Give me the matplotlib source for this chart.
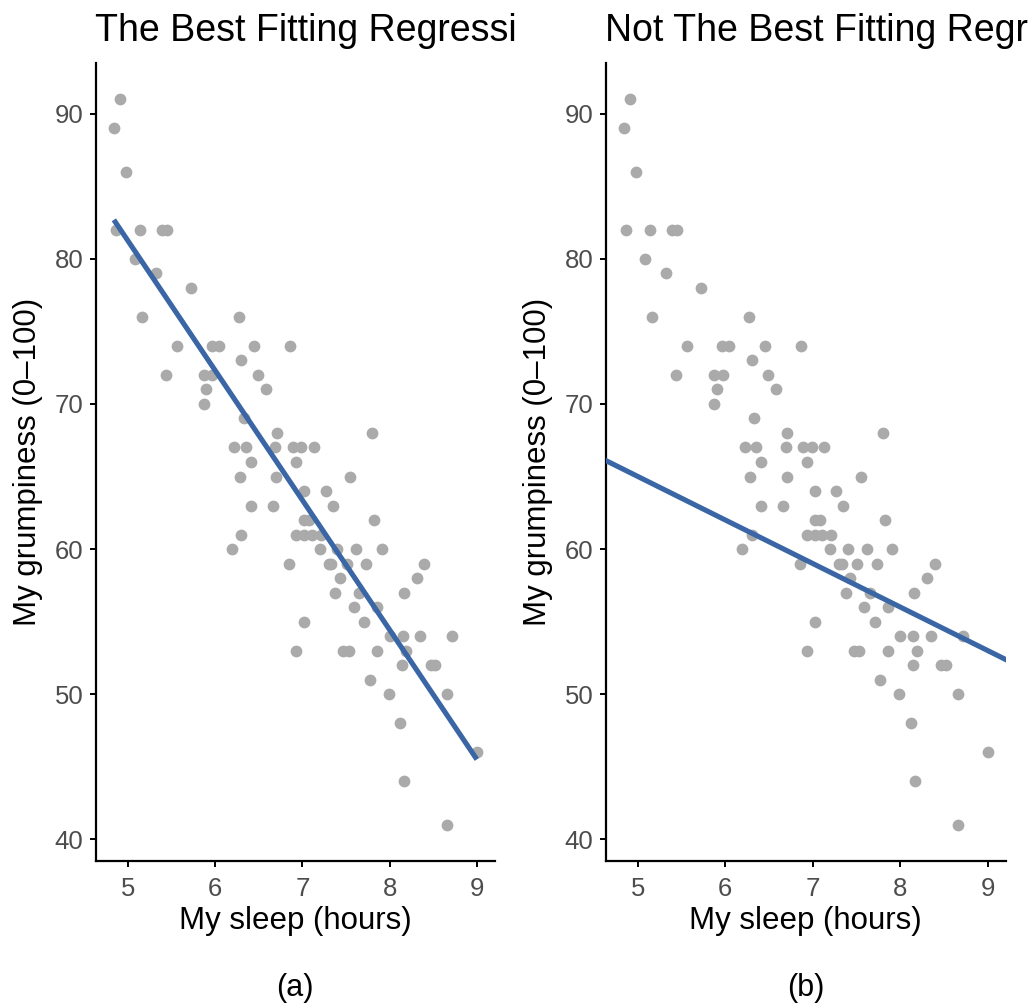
import numpy as np
import matplotlib
matplotlib.use('Agg')
import matplotlib.pyplot as plt
from matplotlib.transforms import Bbox, TransformedBbox

plt.rcParams['font.family'] = ['Liberation Sans', 'DejaVu Sans']

# データ（睡眠時間と不機嫌度）
sleep = [4.91, 4.84, 4.98, 4.86, 5.14, 5.39, 5.45, 5.08, 5.32, 5.72,
         5.16, 6.27, 5.56, 5.96, 6.04, 6.45, 6.86, 6.30, 5.44, 5.87,
         5.97, 6.49, 5.90, 6.58, 5.87, 6.33, 6.71, 7.80, 6.22, 6.35,
         6.69, 6.89, 6.99, 7.13, 6.41, 6.93, 6.28, 6.70, 7.55, 7.02,
         7.27, 6.41, 6.66, 7.35, 7.02, 7.08, 7.82, 6.30, 6.93, 7.02,
         7.11, 7.21, 6.19, 7.20, 7.40, 7.62, 7.91, 6.85, 7.30, 7.33,
         7.51, 7.73, 8.40, 7.43, 8.31, 7.38, 7.65, 8.16, 7.59, 7.86,
         7.02, 7.71, 8.00, 8.15, 8.35, 8.72, 6.93, 7.47, 7.53, 7.86,
         8.19, 8.14, 8.47, 8.52, 7.77, 7.99, 8.66, 8.12, 9.00, 8.17,
         8.66]
grump = [91, 89, 86, 82, 82, 82, 82, 80, 79, 78,
         76, 76, 74, 74, 74, 74, 74, 73, 72, 72,
         72, 72, 71, 71, 70, 69, 68, 68, 67, 67,
         67, 67, 67, 67, 66, 66, 65, 65, 65, 64,
         64, 63, 63, 63, 62, 62, 62, 61, 61, 61,
         61, 61, 60, 60, 60, 60, 60, 59, 59, 59,
         59, 59, 59, 58, 58, 57, 57, 57, 56, 56,
         55, 55, 54, 54, 54, 54, 53, 53, 53, 53,
         53, 52, 52, 52, 51, 50, 50, 48, 46, 44,
         41]

# 回帰直線の係数
best_intercept, best_slope = 125.96, -8.94
bad_intercept, bad_slope = 80.0, -3.0

titles = ['The Best Fitting Regression Line', 'Not The Best Fitting Regression Line']
captions = ['(a)', '(b)']

W, H = 1029, 1007
fig = plt.figure(figsize=(W / 100, H / 100), dpi=100, facecolor='white')

point_col = '#AAAAAA'
line_col = '#3A66A5'
x = np.array(sleep)
y = np.array(grump)

panels = [(95.7, 495.0), (605.7, 1006.0)]
top_px, bot_px = 63.0, 861.0

for i, (l, r) in enumerate(panels):
    ax = fig.add_axes([l / W, 1 - bot_px / H, (r - l) / W, (bot_px - top_px) / H])
    ax.scatter(x, y, s=72, color=point_col, linewidths=0, zorder=2)
    if i == 0:
        xs = np.array([x.min(), x.max()])
        ax.plot(xs, best_intercept + best_slope * xs, color=line_col, lw=3.7,
                solid_capstyle='butt', zorder=3)
    else:
        xs = np.array([4.0, 10.0])
        ax.plot(xs, bad_intercept + bad_slope * xs, color=line_col, lw=3.7,
                solid_capstyle='butt', zorder=3)

    rng = x.max() - x.min()
    ax.set_xlim(x.min() - 0.05 * rng, x.max() + 0.05 * rng)
    yr = y.max() - y.min()
    ax.set_ylim(y.min() - 0.05 * yr, y.max() + 0.05 * yr)
    ax.set_xticks([5, 6, 7, 8, 9])
    ax.set_yticks([40, 50, 60, 70, 80, 90])

    for s in ['top', 'right']:
        ax.spines[s].set_visible(False)
    for s in ['left', 'bottom']:
        ax.spines[s].set_linewidth(1.6)
    ax.tick_params(axis='both', length=4.5, width=1.4, color='black',
                   labelsize=18.5, labelcolor='#4D4D4D')
    ax.tick_params(axis='y', pad=4.5)
    ax.tick_params(axis='x', pad=7)

    ax.set_xlabel('My sleep (hours)', fontsize=22.5)
    ax.xaxis.set_label_coords(0.5, -(921 - bot_px) / (bot_px - top_px))
    ax.xaxis.label.set_va('center')
    ax.set_ylabel('My grumpiness (0\u2013100)', fontsize=22.5)
    ax.yaxis.set_label_coords(-(95.7 - 28) / (r - l), 0.5)
    ax.yaxis.label.set_va('center')

    # タイトル（パネル幅で切れる）
    t = fig.text((l - 0.8) / W, 1 - 41 / H, titles[i], fontsize=27.0,
                 ha='left', va='baseline')
    clip = TransformedBbox(Bbox([[i * 0.5, 0], [(i + 1) * 0.5, 1]]), fig.transFigure)
    t.set_clip_box(clip)
    t.set_clip_on(True)

    fig.text((l + r) / 2 / W, 1 - 988 / H, captions[i], fontsize=22,
             ha='center', va='center')

fig.savefig('out.png', dpi=100, facecolor='white')
